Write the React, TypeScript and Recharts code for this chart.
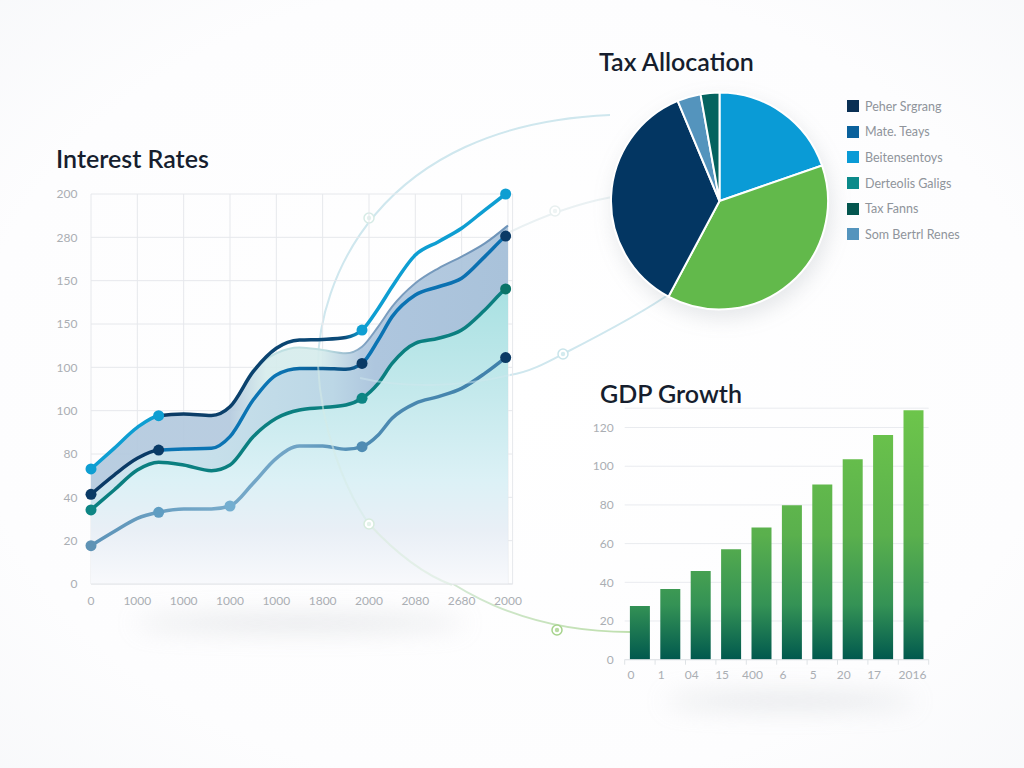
import React from "react";
import {
  Area,
  Bar,
  BarChart,
  CartesianGrid,
  Cell,
  ComposedChart,
  Line,
  Pie,
  PieChart,
  XAxis,
  YAxis,
} from "recharts";

// Interest Rates: x positions are in gridline steps, y values in axis units
const rateX = [0, 0.5, 1, 1.46, 2, 2.6, 3, 3.5, 4, 4.5, 5, 5.5, 5.85, 6.2, 6.5, 7, 7.5, 8, 8.5, 8.95, 9];
const rateTop = [53.1, 62.6, 72.3, 77.7, 78.5, 77.8, 81.8, 98, 108.8, 112.6, 112.9, 113.8, 117.2, 127.2, 137.2, 151.8, 158, 164.2, 172.6, 180, null];
const rateSecond = [41.4, 50.3, 58, 61.8, 62.3, 62.6, 68, 84.9, 96.5, 99.5, 99.5, 99.1, 101.8, 112.6, 123.4, 133.4, 137.2, 141.1, 151.1, 160.6, 161.5];
const rateThird = [34.2, 43.4, 52.6, 56.2, 54.9, 52.3, 54.9, 68, 76.5, 80.3, 81.4, 82.6, 85.7, 92.6, 101.8, 111.1, 113.4, 117.2, 126.5, 136.2, 137];
const rateFourth = [17.7, 24.2, 30.3, 33.1, 34.6, 34.6, 36, 46.5, 58, 63.7, 63.7, 62.2, 63.4, 68.8, 76.5, 83.4, 86.5, 90.3, 97.2, 104.5, null];
const rateBand = [53.1, 62.6, 72.3, 77.7, 78.5, 77.8, 81.8, 98.8, 106.5, 109.2, 108, 106.5, 109.5, 118.8, 128, 138.8, 145.7, 151.1, 157.2, 164.6, 165.5];
const rateYTicks = [0, 20, 40, 60, 80, 100, 120, 140, 160, 180];
const rateYLabels = ["0", "20", "40", "80", "100", "100", "150", "150", "280", "200"];
const rateXTicks = [0, 1, 2, 3, 4, 5, 6, 7, 8, 9];
const rateXLabels = ["0", "1000", "1000", "1000", "1000", "1800", "2000", "2080", "2680", "2000"];

// Tax Allocation
const taxNames = ["Beitensentoys", "Growth", "Peher Srgrang", "Som Bertrl Renes", "Tax Fanns"];
const taxValues = [19.7, 38.1, 35.9, 3.5, 2.8];
const taxColors = ["#0a9bd6", "#62b94b", "#033662", "#5494bd", "#04635f"];
const legendNames = ["Peher Srgrang", "Mate. Teays", "Beitensentoys", "Derteolis Galigs", "Tax Fanns", "Som Bertrl Renes"];
const legendColors = ["#0a3054", "#0a619c", "#0a9bd6", "#0b8a8a", "#04564f", "#5494bd"];

// GDP Growth
const gdpLabels = ["0", "1", "04", "15", "400", "6", "5", "20", "17", "2016"];
const gdpValues = [27.8, 36.6, 45.9, 57.1, 68.3, 79.8, 90.5, 103.6, 116.2, 129];
const gdpTicks = [0, 20, 40, 60, 80, 100, 120];

const rateData = rateX.map((x, i) => ({
  x,
  top: rateTop[i],
  second: rateSecond[i],
  third: rateThird[i],
  fourth: rateFourth[i],
  band: rateBand[i],
}));
const taxData = taxNames.map((name, i) => ({ name, value: taxValues[i] }));
const gdpData = gdpLabels.map((label, i) => ({ label, value: gdpValues[i] }));

const FONT = "Lato, sans-serif";
const TICK = { fill: "#aaaeb3", fontSize: 12, fontFamily: FONT };

const titleStyle: React.CSSProperties = {
  position: "absolute",
  fontFamily: FONT,
  fontSize: 25,
  fontWeight: 600,
  color: "#161e2e",
  lineHeight: "30px",
  whiteSpace: "nowrap",
};

// only some of the points carry a marker, indexed into rateX
const markerDot =
  (markers: Record<number, string>, r = 5.5) =>
  (props: any) => {
    const color = markers[props.index];
    if (!color) return <g key={props.index} />;
    return <circle key={props.index} cx={props.cx} cy={props.cy} r={r} fill={color} />;
  };

const GdpTick = (props: any) => {
  const { x, y, payload, index } = props;
  const half = 15.2;
  const last = index === gdpLabels.length - 1;
  return (
    <g>
      <line x1={x - half} x2={x - half} y1={y - 8} y2={y - 3} stroke="#dfe3e6" />
      {last && <line x1={x + half} x2={x + half} y1={y - 8} y2={y - 3} stroke="#dfe3e6" />}
      <text x={x + (last ? -1 : -9)} y={y + 11} textAnchor="middle" {...TICK}>
        {payload.value}
      </text>
    </g>
  );
};

const Ring = ({ x, y, color, fill }: { x: number; y: number; color: string; fill: string }) => (
  <g>
    <circle cx={x} cy={y} r={5} stroke={color} strokeWidth={1.5} fill="#ffffff" />
    <circle cx={x} cy={y} r={2.2} fill={fill} />
  </g>
);

const Backdrop = () => (
  <svg width={1024} height={768} style={{ position: "absolute", left: 0, top: 0 }}>
    <defs>
      <radialGradient id="pageBg" cx="50%" cy="50%" r="75%">
        <stop offset="0%" stopColor="#ffffff" />
        <stop offset="70%" stopColor="#fdfdfe" />
        <stop offset="100%" stopColor="#f7f8fa" />
      </radialGradient>
      <linearGradient id="arcDown" x1="0" y1="0" x2="1" y2="1">
        <stop offset="0%" stopColor="#dcefee" />
        <stop offset="55%" stopColor="#d9ebdc" />
        <stop offset="100%" stopColor="#bfdfae" />
      </linearGradient>
      <filter id="soft" x="-40%" y="-400%" width="180%" height="900%">
        <feGaussianBlur stdDeviation="12" />
      </filter>
    </defs>
    <rect width={1024} height={768} fill="url(#pageBg)" />
    <ellipse cx={300} cy={623} rx={165} ry={7} fill="#c3c7cd" opacity={0.5} filter="url(#soft)" />
    <ellipse cx={790} cy={701} rx={125} ry={7} fill="#c3c7cd" opacity={0.5} filter="url(#soft)" />
    <g fill="none" strokeWidth={2}>
      <path d="M318 365C318 285 375 125 610 115" stroke="#cfe7ee" />
      <path d="M318 365C322 470 420 632 630 632" stroke="url(#arcDown)" />
      <path d="M510 375C530 372 548 362 563 354C610 330 650 308 672 292" stroke="#cfe7ee" />
      <path d="M510 232C545 215 575 204 612 197" stroke="#eaf1f3" />
    </g>
    <Ring x={369} y={218} color="#d6ebe6" fill="#e3f2ee" />
    <Ring x={555} y={211} color="#e8f0f0" fill="#eef4f4" />
    <Ring x={563} y={354} color="#c8e4ea" fill="#d4ebef" />
    <Ring x={557} y={630} color="#a6d38c" fill="#b8dca2" />
  </svg>
);

// the parts of the connecting arcs that show faintly through the line chart's fill
const ArcsOverFill = () => (
  <svg width={1024} height={768} style={{ position: "absolute", left: 0, top: 0, pointerEvents: "none" }}>
    <g fill="none" strokeWidth={2}>
      <path d="M318 365C321 430 345 490 369 524" stroke="#d5ebe6" opacity={0.55} />
      <path d="M369 524C395 552 425 575 452 585" stroke="#d9ebdc" opacity={0.6} />
      <path d="M360 378C410 390 470 385 510 375" stroke="#cfe7ee" opacity={0.5} />
    </g>
    <Ring x={369} y={524} color="#d6ebdd" fill="#e3f2ea" />
  </svg>
);

export default function App() {
  return (
    <div style={{ position: "absolute", left: 0, top: 0, width: 1024, height: 768, overflow: "hidden" }}>
      <Backdrop />

      <div style={{ ...titleStyle, left: 56, top: 143 }}>Interest Rates</div>
      <div style={{ ...titleStyle, left: 599, top: 46 }}>Tax Allocation</div>
      <div style={{ ...titleStyle, left: 600, top: 378 }}>GDP Growth</div>

      {/* Interest Rates */}
      <div style={{ position: "absolute", left: 40, top: 180 }}>
        <ComposedChart
          width={490}
          height={440}
          data={rateData}
          margin={{ top: 14, right: 17.4, bottom: 6, left: 0 }}
        >
          <defs>
            <linearGradient id="bandFill" x1="0" y1="0" x2="1" y2="0">
              <stop offset="0%" stopColor="#b3c9de" />
              <stop offset="33%" stopColor="#b3c9de" />
              <stop offset="42%" stopColor="#d6ecec" />
              <stop offset="55%" stopColor="#d6ecec" />
              <stop offset="65%" stopColor="#aec6de" />
              <stop offset="100%" stopColor="#a9c2da" />
            </linearGradient>
            <linearGradient id="secondFill" x1="0" y1="0" x2="1" y2="0">
              <stop offset="0%" stopColor="#cfe5ef" />
              <stop offset="30%" stopColor="#c6dfea" />
              <stop offset="58%" stopColor="#bcd7e6" />
              <stop offset="68%" stopColor="#aec6de" />
              <stop offset="100%" stopColor="#a9c2da" />
            </linearGradient>
            <linearGradient id="underFill" gradientUnits="userSpaceOnUse" x1="0" y1="110" x2="0" y2="404">
              <stop offset="0%" stopColor="#a9e1e2" />
              <stop offset="35%" stopColor="#c4e9ec" />
              <stop offset="65%" stopColor="#dcf1f6" />
              <stop offset="82%" stopColor="#e9eff6" />
              <stop offset="100%" stopColor="#f8f9fc" />
            </linearGradient>
            <linearGradient id="bandEdge" x1="0" y1="0" x2="1" y2="0">
              <stop offset="33%" stopColor="#bfe0e2" stopOpacity={0} />
              <stop offset="36%" stopColor="#bfe0e2" />
              <stop offset="56%" stopColor="#bfe0e2" />
              <stop offset="66%" stopColor="#7d9fc0" />
              <stop offset="100%" stopColor="#6d93b8" />
            </linearGradient>
            <linearGradient id="topStroke" x1="0" y1="0" x2="1" y2="0">
              <stop offset="16.2%" stopColor="#0e9ed2" />
              <stop offset="16.2%" stopColor="#0b3a64" />
              <stop offset="61%" stopColor="#0b4a78" />
              <stop offset="65%" stopColor="#0e9ed2" />
              <stop offset="100%" stopColor="#0e9ed2" />
            </linearGradient>
            <linearGradient id="secondStroke" x1="0" y1="0" x2="1" y2="0">
              <stop offset="16.2%" stopColor="#0a3a66" />
              <stop offset="16.2%" stopColor="#0b74b3" />
              <stop offset="45%" stopColor="#0b74b3" />
              <stop offset="62%" stopColor="#0c4f80" />
              <stop offset="66%" stopColor="#0b74b3" />
              <stop offset="100%" stopColor="#0b6fb0" />
            </linearGradient>
            <linearGradient id="fourthStroke" x1="0" y1="0" x2="1" y2="0">
              <stop offset="0%" stopColor="#5c93b8" />
              <stop offset="30%" stopColor="#76a9c9" />
              <stop offset="50%" stopColor="#6fa3c5" />
              <stop offset="65%" stopColor="#4f8cb3" />
              <stop offset="100%" stopColor="#3f80aa" />
            </linearGradient>
          </defs>
          <CartesianGrid stroke="#e6e8ec" />
          <XAxis
            dataKey="x"
            type="number"
            domain={[0, 9.1]}
            ticks={rateXTicks}
            interval={0}
            tickLine={false}
            axisLine={{ stroke: "#e3e5e9" }}
            tickMargin={6}
            height={30}
            tick={TICK}
            tickFormatter={(v: number) => rateXLabels[v]}
          />
          <YAxis
            type="number"
            domain={[0, 180]}
            ticks={rateYTicks}
            interval={0}
            width={51}
            tickLine={false}
            axisLine={false}
            tickMargin={7.5}
            tick={TICK}
            tickFormatter={(v: number) => rateYLabels[v / 20]}
          />
          <Area
            dataKey="band"
            type="monotone"
            fill="url(#bandFill)"
            fillOpacity={0.92}
            stroke="url(#bandEdge)"
            strokeWidth={2}
            isAnimationActive={false}
          />
          <Area
            dataKey="second"
            type="monotone"
            fill="url(#secondFill)"
            fillOpacity={1}
            stroke="none"
            isAnimationActive={false}
          />
          <Area
            dataKey="third"
            type="monotone"
            fill="url(#underFill)"
            fillOpacity={1}
            stroke="none"
            isAnimationActive={false}
          />
          <Line
            dataKey="fourth"
            type="monotone"
            stroke="url(#fourthStroke)"
            strokeWidth={3.5}
            isAnimationActive={false}
            dot={markerDot({ 0: "#5f93b5", 3: "#5f9dc2", 6: "#74aed0", 12: "#4f8cb3", 19: "#0b3a64" })}
          />
          <Line
            dataKey="third"
            type="monotone"
            stroke="#0b7f80"
            strokeWidth={3.5}
            isAnimationActive={false}
            dot={markerDot({ 0: "#0d8584", 12: "#0d8584", 19: "#0b7468" })}
          />
          <Line
            dataKey="second"
            type="monotone"
            stroke="url(#secondStroke)"
            strokeWidth={3.5}
            isAnimationActive={false}
            dot={markerDot({ 0: "#0a3a66", 3: "#0a3a66", 12: "#0a3a66", 19: "#0a3a66" })}
          />
          <Line
            dataKey="top"
            type="monotone"
            stroke="url(#topStroke)"
            strokeWidth={3.5}
            isAnimationActive={false}
            dot={markerDot({ 0: "#0e9ed2", 3: "#0e9ed2", 12: "#0e9ed2", 19: "#0e9ed2" })}
          />
        </ComposedChart>
      </div>
      <ArcsOverFill />

      {/* Tax Allocation */}
      <div
        style={{
          position: "absolute",
          left: 590,
          top: 71,
          filter: "drop-shadow(3px 8px 10px rgba(90,100,115,0.15))",
        }}
      >
        <PieChart width={260} height={260} margin={{ top: 0, right: 0, bottom: 0, left: 0 }}>
          <Pie
            data={taxData}
            dataKey="value"
            nameKey="name"
            cx={129.5}
            cy={130}
            outerRadius={108.5}
            startAngle={90}
            endAngle={-270}
            stroke="#ffffff"
            strokeWidth={2}
            isAnimationActive={false}
          >
            {taxData.map((d, i) => (
              <Cell key={d.name} fill={taxColors[i]} />
            ))}
          </Pie>
        </PieChart>
      </div>

      {/* legend */}
      <div style={{ position: "absolute", left: 847, top: 93.5 }}>
        {legendNames.map((name, i) => (
          <div key={name} style={{ display: "flex", alignItems: "center", height: 25.6 }}>
            <span style={{ width: 12, height: 12, background: legendColors[i], marginRight: 6 }} />
            <span style={{ fontFamily: FONT, fontSize: 12.5, color: "#8f949b", whiteSpace: "nowrap" }}>{name}</span>
          </div>
        ))}
      </div>

      {/* GDP Growth */}
      <div style={{ position: "absolute", left: 580, top: 400 }}>
        <BarChart
          width={360}
          height={300}
          data={gdpData}
          barCategoryGap={5.2}
          margin={{ top: 8.2, right: 11.3, bottom: 10.3, left: 0 }}
        >
          <defs>
            <linearGradient id="gdpFill" gradientUnits="userSpaceOnUse" x1="0" y1="10" x2="0" y2="260">
              <stop offset="0%" stopColor="#6dc54b" />
              <stop offset="50%" stopColor="#5ab04d" />
              <stop offset="78%" stopColor="#349255" />
              <stop offset="100%" stopColor="#00584e" />
            </linearGradient>
          </defs>
          <CartesianGrid stroke="#e9ebef" vertical={false} />
          <XAxis
            dataKey="label"
            interval={0}
            tickLine={false}
            axisLine={{ stroke: "#dfe3e6" }}
            height={30}
            tick={<GdpTick />}
          />
          <YAxis
            type="number"
            domain={[0, 130]}
            ticks={gdpTicks}
            interval={0}
            width={44.7}
            tickLine={false}
            axisLine={false}
            tickMargin={5}
            tick={TICK}
          />
          <Bar dataKey="value" fill="url(#gdpFill)" isAnimationActive={false} />
        </BarChart>
      </div>
    </div>
  );
}
